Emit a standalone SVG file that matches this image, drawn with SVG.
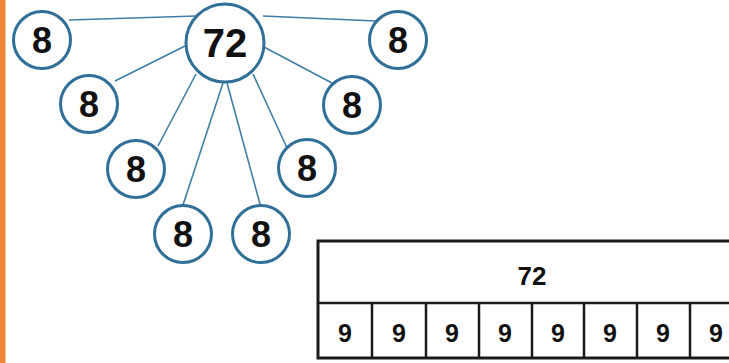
<svg xmlns="http://www.w3.org/2000/svg" width="729" height="363" viewBox="0 0 729 363">
<style>
.c{fill:#fff;stroke:#2f6f98;stroke-width:3}
.t{font-family:"Liberation Sans",Arial,sans-serif;font-weight:bold;fill:#111;text-anchor:middle}
.e{stroke:#3f7ea5;stroke-width:1.6;fill:none}
.b{fill:none;stroke:#1a1a1a;stroke-width:3}
.bl{stroke:#1a1a1a;stroke-width:2.5}
.n{font-size:25px}
</style>
<rect x="0" y="0" width="729" height="363" fill="#fff"/>
<rect x="0" y="0" width="5.5" height="363" fill="#f0883a"/>
<g id="connectors">
<line class="e" x1="69" y1="20" x2="196" y2="16"/>
<line class="e" x1="263" y1="16" x2="376" y2="21"/>
<line class="e" x1="185" y1="46" x2="115" y2="81"/>
<line class="e" x1="196" y1="74" x2="158" y2="146"/>
<line class="e" x1="223" y1="83" x2="183" y2="205"/>
<line class="e" x1="227" y1="83" x2="260" y2="204"/>
<line class="e" x1="253" y1="74" x2="287" y2="148"/>
<line class="e" x1="264" y1="47" x2="332" y2="83"/>
</g>
<g id="n72"><circle class="c" cx="225" cy="43" r="39"/><text class="t" x="225" y="57" font-size="40">72</text></g>
<g id="n1"><circle class="c" cx="42" cy="40" r="28.5"/><text class="t" x="42" y="53" font-size="36">8</text></g>
<g id="n2"><circle class="c" cx="89" cy="104" r="28.5"/><text class="t" x="89" y="117" font-size="36">8</text></g>
<g id="n3"><circle class="c" cx="136" cy="169" r="28.5"/><text class="t" x="136" y="182" font-size="36">8</text></g>
<g id="n4"><circle class="c" cx="183" cy="234" r="28.5"/><text class="t" x="183" y="247" font-size="36">8</text></g>
<g id="n5"><circle class="c" cx="261" cy="234" r="28.5"/><text class="t" x="261" y="247" font-size="36">8</text></g>
<g id="n6"><circle class="c" cx="307" cy="168" r="28.5"/><text class="t" x="307" y="181" font-size="36">8</text></g>
<g id="n7"><circle class="c" cx="352" cy="105" r="28.5"/><text class="t" x="352" y="118" font-size="36">8</text></g>
<g id="n8"><circle class="c" cx="398" cy="40" r="28.5"/><text class="t" x="398" y="53" font-size="36">8</text></g>
<g id="bar">
<rect class="b" x="318" y="241" width="440" height="117"/>
<line class="bl" x1="318" y1="303" x2="729" y2="303"/>
<line class="bl" x1="372" y1="303" x2="372" y2="358"/>
<line class="bl" x1="426" y1="303" x2="426" y2="358"/>
<line class="bl" x1="479" y1="303" x2="479" y2="358"/>
<line class="bl" x1="532" y1="303" x2="532" y2="358"/>
<line class="bl" x1="584" y1="303" x2="584" y2="358"/>
<line class="bl" x1="637" y1="303" x2="637" y2="358"/>
<line class="bl" x1="690" y1="303" x2="690" y2="358"/>
<text class="t" x="532" y="285" font-size="26">72</text>
<text class="t n" x="345" y="342">9</text>
<text class="t n" x="399" y="342">9</text>
<text class="t n" x="452" y="342">9</text>
<text class="t n" x="505" y="342">9</text>
<text class="t n" x="558" y="342">9</text>
<text class="t n" x="610" y="342">9</text>
<text class="t n" x="663" y="342">9</text>
<text class="t n" x="716" y="342">9</text>
</g>
</svg>
